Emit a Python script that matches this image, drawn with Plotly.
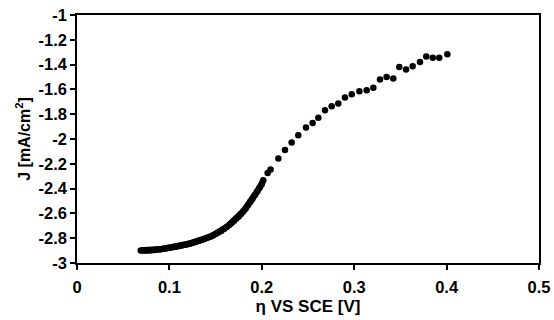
import plotly.graph_objects as go

# Dense low-potential segment (points nearly touching)
x_dense = [0.069, 0.072, 0.075, 0.078, 0.081, 0.084, 0.087, 0.090, 0.093, 0.096,
           0.099, 0.102, 0.105, 0.108, 0.111, 0.114, 0.117, 0.120, 0.123, 0.126,
           0.129, 0.132, 0.135, 0.138, 0.141, 0.144, 0.147, 0.150, 0.153, 0.156,
           0.159, 0.162, 0.165, 0.1675, 0.170, 0.1725, 0.175, 0.1775, 0.180, 0.1825,
           0.185, 0.1875, 0.190, 0.1925, 0.195, 0.1975, 0.200, 0.2016]
j_dense = [-2.900, -2.900, -2.900, -2.899, -2.897, -2.895, -2.892, -2.889, -2.886, -2.883,
           -2.879, -2.875, -2.871, -2.867, -2.862, -2.857, -2.852, -2.847, -2.841, -2.835,
           -2.829, -2.821, -2.814, -2.806, -2.797, -2.788, -2.778, -2.767, -2.755, -2.741,
           -2.726, -2.709, -2.691, -2.675, -2.659, -2.642, -2.624, -2.604, -2.583, -2.560,
           -2.535, -2.509, -2.482, -2.454, -2.424, -2.394, -2.362, -2.333]

# Sparser high-potential segment
x_sparse = [0.2063, 0.2095, 0.2179, 0.2251, 0.2323, 0.2395, 0.2478, 0.2550, 0.2612, 0.2684,
            0.2756, 0.2828, 0.2900, 0.2973, 0.3056, 0.3135, 0.3207, 0.3279, 0.3351, 0.3423,
            0.3488, 0.3561, 0.3633, 0.3712, 0.3780, 0.3850, 0.3920, 0.4008]
j_sparse = [-2.274, -2.245, -2.158, -2.088, -2.028, -1.970, -1.908, -1.871, -1.828, -1.769,
            -1.736, -1.713, -1.665, -1.640, -1.615, -1.607, -1.586, -1.521, -1.500, -1.513,
            -1.419, -1.440, -1.414, -1.379, -1.335, -1.344, -1.344, -1.317]

x_ticks = [0, 0.1, 0.2, 0.3, 0.4, 0.5]
x_tick_labels = ["0", "0.1", "0.2", "0.3", "0.4", "0.5"]
y_ticks = [-3, -2.8, -2.6, -2.4, -2.2, -2, -1.8, -1.6, -1.4, -1.2, -1]
y_tick_labels = ["-3", "-2.8", "-2.6", "-2.4", "-2.2", "-2", "-1.8", "-1.6", "-1.4", "-1.2", "-1"]

FONT = "Arial, Liberation Sans, sans-serif"

fig = go.Figure()
fig.add_trace(go.Scatter(x=x_dense, y=j_dense, mode="lines+markers",
                         line=dict(color="black", width=6.5),
                         marker=dict(color="black", size=6.5), showlegend=False,
                         hoverinfo="skip"))
fig.add_trace(go.Scatter(x=x_sparse, y=j_sparse, mode="markers",
                         marker=dict(color="black", size=6.5), showlegend=False,
                         hoverinfo="skip"))

axis_common = dict(showgrid=False, zeroline=False, showline=True, linecolor="black",
                   linewidth=1.5, mirror=True, ticks="outside", ticklen=5,
                   tickcolor="black", tickwidth=1.5, automargin=False,
                   tickfont=dict(family=FONT, size=16.5, color="black", weight="bold"))

fig.update_xaxes(range=[0, 0.5], tickvals=x_ticks,
                 ticktext=["<b>" + t + "</b>" for t in x_tick_labels],
                 ticklabelstandoff=3,
                 title=dict(text="<b>η VS SCE [V]</b>", standoff=6,
                            font=dict(family=FONT, size=17, color="black", weight="bold")),
                 **axis_common)
fig.update_yaxes(range=[-3, -1], tickvals=y_ticks,
                 ticktext=["<b>" + t + "</b>" for t in y_tick_labels],
                 title=dict(text="<b>J [mA/cm<sup>2</sup>]</b>", standoff=4,
                            font=dict(family=FONT, size=16, color="black", weight="bold")),
                 **axis_common)

fig.update_layout(width=554, height=320, margin=dict(l=77, r=15, t=15, b=57),
                  plot_bgcolor="white", paper_bgcolor="white")

fig.write_html("out.html", config={"displayModeBar": False},
               post_script="document.body.style.margin='0';document.body.style.overflow='hidden';")
